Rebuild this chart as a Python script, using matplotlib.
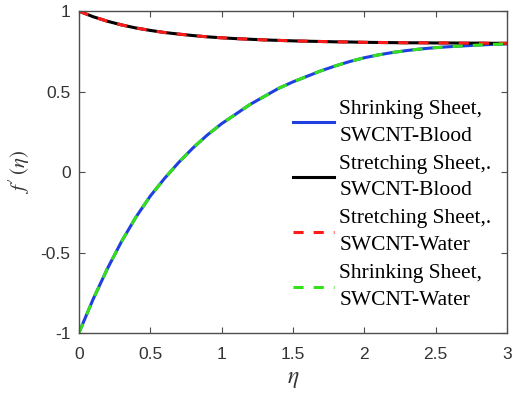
import matplotlib
matplotlib.use("Agg")
import matplotlib.pyplot as plt

# ── data ─────────────────────────────────────────────────────────────────────
eta = [0.0, 0.1, 0.2, 0.3, 0.4, 0.5, 0.6, 0.7, 0.8, 0.9, 1.0,
       1.1, 1.2, 1.3, 1.4, 1.5, 1.6, 1.7, 1.8, 1.9, 2.0,
       2.1, 2.2, 2.3, 2.4, 2.5, 2.6, 2.7, 2.8, 2.9, 3.0]

# shrinking sheet (starts at -1)
shrink_blood = [-1.00, -0.79, -0.60, -0.43, -0.28, -0.15, -0.04, 0.06, 0.15, 0.23, 0.30,
                0.36, 0.42, 0.47, 0.52, 0.56, 0.595, 0.63, 0.66, 0.687, 0.71,
                0.728, 0.743, 0.755, 0.765, 0.773, 0.779, 0.784, 0.789, 0.793, 0.796]
shrink_water = shrink_blood

# stretching sheet (starts at 1)
stretch_blood = [1.000, 0.965, 0.937, 0.914, 0.895, 0.880, 0.867, 0.857, 0.848, 0.840, 0.834,
                 0.829, 0.825, 0.821, 0.818, 0.815, 0.813, 0.811, 0.809, 0.808, 0.806,
                 0.805, 0.804, 0.803, 0.803, 0.802, 0.802, 0.801, 0.801, 0.800, 0.800]
stretch_water = stretch_blood

labels = ["Shrinking Sheet,\nSWCNT-Blood",
          "Stretching Sheet,.\nSWCNT-Blood",
          "Stretching Sheet,.\nSWCNT-Water",
          "Shrinking Sheet,\nSWCNT-Water"]

x_ticks = [0, 0.5, 1, 1.5, 2, 2.5, 3]
y_ticks = [-1, -0.5, 0, 0.5, 1]

plt.rcParams["axes.unicode_minus"] = False
plt.rcParams["mathtext.fontset"] = "stix"

fig = plt.figure(figsize=(5.12, 3.96), dpi=100)
ax = fig.add_axes([0.154, 0.159, 0.836, 0.813])

lw = 2.2
ax.plot(eta, shrink_blood, color="#1f3fe0", linewidth=lw, label=labels[0])
ax.plot(eta, stretch_blood, color="black", linewidth=lw, label=labels[1])
ax.plot(eta, stretch_water, color="#ff1a1a", linewidth=lw, linestyle=(0, (3.3, 3.3)), label=labels[2])
ax.plot(eta, shrink_water, color="#33e01a", linewidth=lw, linestyle=(0, (3.3, 3.3)), label=labels[3])

ax.set_xlim(0, 3)
ax.set_ylim(-1, 1)
ax.set_xticks(x_ticks)
ax.set_xticklabels([f"{t:g}" for t in x_ticks])
ax.set_yticks(y_ticks)
ax.set_yticklabels([f"{t:g}" for t in y_ticks])

axis_grey = "#4d4d4d"
for s in ax.spines.values():
    s.set_color(axis_grey)
    s.set_linewidth(1.0)
ax.tick_params(direction="in", top=True, right=True, length=4, width=0.8,
               colors=axis_grey, labelsize=12.5)
ax.tick_params(axis="x", pad=10)
ax.tick_params(axis="y", pad=6)
for lab in ax.get_xticklabels() + ax.get_yticklabels():
    lab.set_family("Liberation Sans")
    lab.set_color("#333333")

ax.set_xlabel(r"$\eta$", fontsize=17, color="#333333", labelpad=3)
ax.set_ylabel(r"$f\,'\,(\eta)$", fontsize=15, color="#333333", labelpad=6)

leg = ax.legend(loc="upper left", bbox_to_anchor=(293 / 512, 1 - 100 / 396),
                bbox_transform=fig.transFigure, frameon=False,
                prop={"family": "Liberation Serif", "size": 15.5},
                handlelength=1.9, handletextpad=0.25, labelspacing=0.42,
                borderaxespad=0, borderpad=0)
for t in leg.get_texts():
    t.set_linespacing(1.55)

fig.savefig("out.png", dpi=100)
